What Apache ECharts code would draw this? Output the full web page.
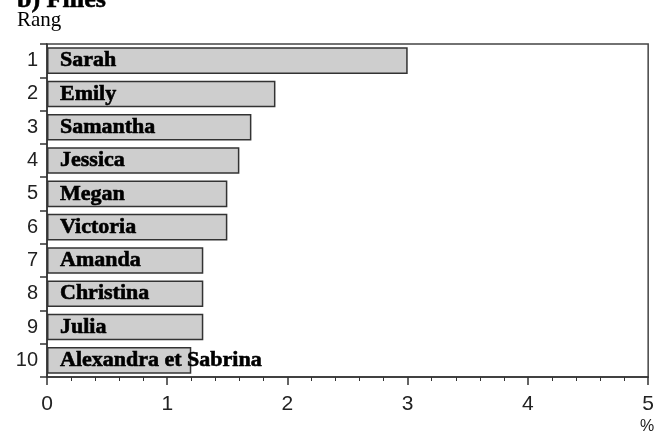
<!DOCTYPE html>
<html>
<head>
<meta charset="utf-8">
<script src="https://cdn.jsdelivr.net/npm/echarts@6/dist/echarts.min.js"></script>
<style>
  html, body { margin: 0; padding: 0; background: #fff; }
  #chart { width: 657px; height: 436px; }
</style>
</head>
<body>
<div id="chart"></div>
<script>
// rangs et prénoms (filles)
var ranks = ['1', '2', '3', '4', '5', '6', '7', '8', '9', '10'];
var names = ['Sarah', 'Emily', 'Samantha', 'Jessica', 'Megan', 'Victoria', 'Amanda', 'Christina', 'Julia', 'Alexandra et Sabrina'];
var values = [3.0, 1.9, 1.7, 1.6, 1.5, 1.5, 1.3, 1.3, 1.3, 1.2];
var xTicks = [0, 1, 2, 3, 4, 5];

var chart = echarts.init(document.getElementById('chart'), null, { renderer: 'canvas' });

var option = {
  animation: false,
  title: [{
    text: 'b) Filles',
    left: 12,
    top: -18,
    textStyle: {
      fontFamily: 'Liberation Serif', fontWeight: 'bold', fontSize: 26, color: '#000',
      textBorderColor: '#000', textBorderWidth: 0.6
    }
  }, {
    text: 'Rang',
    left: 12,
    top: 5,
    textStyle: { fontFamily: 'Liberation Serif', fontWeight: 'normal', fontSize: 21, color: '#000' }
  }, {
    text: '%',
    left: 635,
    top: 414,
    textStyle: { fontFamily: 'Liberation Sans', fontWeight: 'normal', fontSize: 16, color: '#222' }
  }],
  grid: {
    left: 47,
    right: 6,
    top: 44,
    bottom: 59,
    show: true,
    borderColor: '#444',
    borderWidth: 1.5
  },
  xAxis: {
    type: 'value',
    min: xTicks[0],
    max: xTicks[xTicks.length - 1],
    interval: 1,
    axisLine: { show: true, lineStyle: { color: '#333', width: 1.5 } },
    axisTick: { show: true, inside: false, length: 8, lineStyle: { color: '#333', width: 1.5 } },
    minorTick: { show: true, splitNumber: 5, length: 4, lineStyle: { color: '#333', width: 1 } },
    splitLine: { show: false },
    axisLabel: { fontFamily: 'Liberation Sans', fontSize: 21, color: '#222', margin: 17 }
  },
  yAxis: {
    type: 'category',
    data: ranks,
    inverse: true,
    axisLine: { show: true, lineStyle: { color: '#333', width: 1.5 } },
    axisTick: { show: true, inside: false, length: 7, lineStyle: { color: '#333', width: 1.5 } },
    splitLine: { show: false },
    axisLabel: { fontFamily: 'Liberation Sans', fontSize: 20, color: '#222', margin: 9 }
  },
  series: [{
    type: 'bar',
    data: values,
    barWidth: '80%',
    itemStyle: { color: '#cecece', borderColor: '#333', borderWidth: 1.5 },
    label: {
      show: true,
      position: 'insideLeft',
      distance: 13,
      formatter: function (p) { return names[p.dataIndex]; },
      fontFamily: 'Liberation Serif',
      fontWeight: 'bold',
      fontSize: 22,
      color: '#000',
      textBorderColor: '#000',
      textBorderWidth: 0.6
    }
  }]
};

chart.setOption(option);
</script>
</body>
</html>
